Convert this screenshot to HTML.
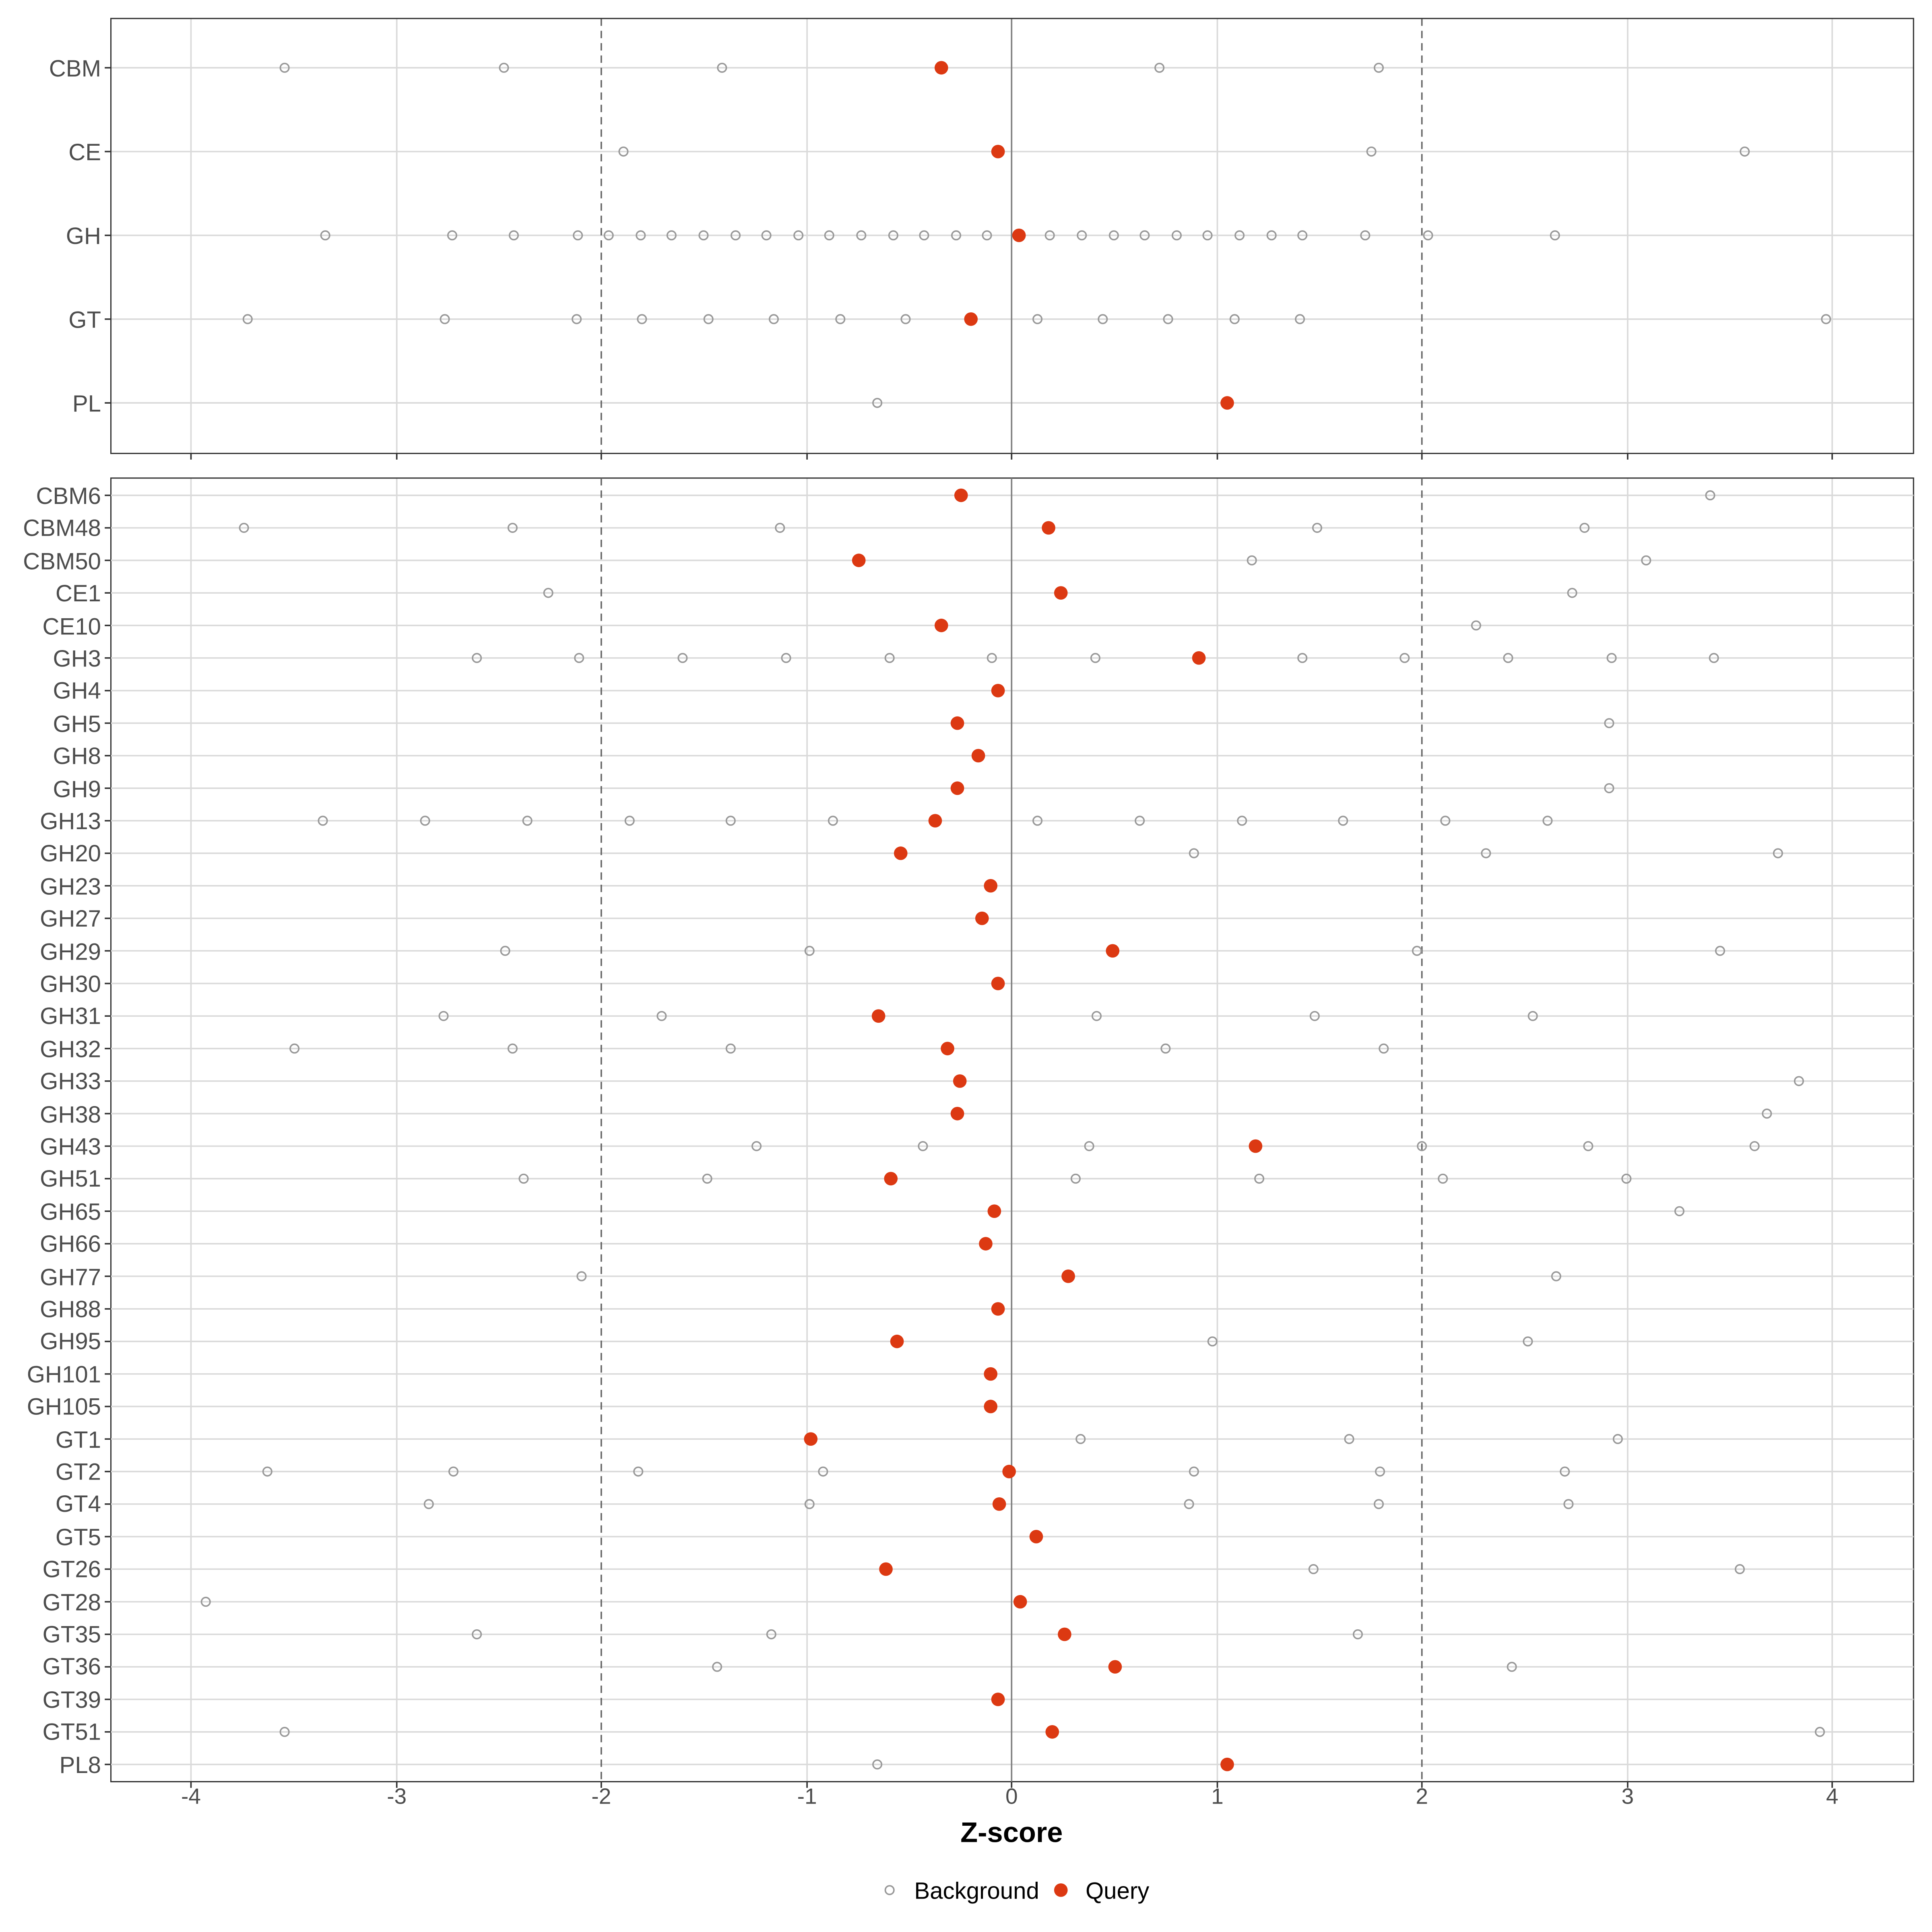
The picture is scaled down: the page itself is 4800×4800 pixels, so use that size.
<!DOCTYPE html>
<html><head><style>html,body{margin:0;padding:0;background:#fff}svg{display:block}</style></head><body>
<svg width="4800" height="4800" viewBox="0 0 1568 1568" xmlns="http://www.w3.org/2000/svg" font-family="Liberation Sans, sans-serif">
<rect width="1568" height="1568" fill="#fff"/>
<g stroke="#dadada" stroke-width="1.2">
<line x1="155" y1="15" x2="155" y2="368"/><line x1="322" y1="15" x2="322" y2="368"/><line x1="655" y1="15" x2="655" y2="368"/><line x1="988" y1="15" x2="988" y2="368"/><line x1="1321" y1="15" x2="1321" y2="368"/><line x1="1487" y1="15" x2="1487" y2="368"/>
<line x1="155" y1="388" x2="155" y2="1446"/><line x1="322" y1="388" x2="322" y2="1446"/><line x1="655" y1="388" x2="655" y2="1446"/><line x1="988" y1="388" x2="988" y2="1446"/><line x1="1321" y1="388" x2="1321" y2="1446"/><line x1="1487" y1="388" x2="1487" y2="1446"/>
<line x1="90" y1="55" x2="1553" y2="55"/><line x1="90" y1="123" x2="1553" y2="123"/><line x1="90" y1="191" x2="1553" y2="191"/><line x1="90" y1="259" x2="1553" y2="259"/><line x1="90" y1="327" x2="1553" y2="327"/>
</g>
<g stroke="#808080" stroke-width="1.2"><line x1="821" y1="15" x2="821" y2="368"/></g>
<g stroke="#666" stroke-width="1.2" stroke-dasharray="6,4"><line x1="488" y1="15" x2="488" y2="368"/><line x1="1154" y1="15" x2="1154" y2="368"/></g>
<g fill="none" stroke="#333" stroke-width="1"><rect x="90" y="15" width="1463" height="353"/><rect x="90" y="388" width="1463" height="1058"/></g>

<g font-size="19" fill="#4d4d4d" text-anchor="end">
<text x="82" y="62">CBM</text><text x="82" y="130">CE</text><text x="82" y="198">GH</text><text x="82" y="266">GT</text><text x="82" y="334">PL</text>
</g>
<g stroke="#333" stroke-width="1.2">
<line x1="85" y1="55" x2="90" y2="55"/><line x1="85" y1="123" x2="90" y2="123"/><line x1="85" y1="191" x2="90" y2="191"/><line x1="85" y1="259" x2="90" y2="259"/><line x1="85" y1="327" x2="90" y2="327"/>
<line x1="155" y1="368" x2="155" y2="373"/><line x1="322" y1="368" x2="322" y2="373"/><line x1="488" y1="368" x2="488" y2="373"/><line x1="655" y1="368" x2="655" y2="373"/><line x1="821" y1="368" x2="821" y2="373"/><line x1="988" y1="368" x2="988" y2="373"/><line x1="1154" y1="368" x2="1154" y2="373"/><line x1="1321" y1="368" x2="1321" y2="373"/><line x1="1487" y1="368" x2="1487" y2="373"/>
<line x1="155" y1="1446" x2="155" y2="1451"/><line x1="322" y1="1446" x2="322" y2="1451"/><line x1="488" y1="1446" x2="488" y2="1451"/><line x1="655" y1="1446" x2="655" y2="1451"/><line x1="821" y1="1446" x2="821" y2="1451"/><line x1="988" y1="1446" x2="988" y2="1451"/><line x1="1154" y1="1446" x2="1154" y2="1451"/><line x1="1321" y1="1446" x2="1321" y2="1451"/><line x1="1487" y1="1446" x2="1487" y2="1451"/>
</g>
<g font-size="18" fill="#4d4d4d" text-anchor="middle">
<text x="155" y="1464">-4</text><text x="322" y="1464">-3</text><text x="488" y="1464">-2</text><text x="655" y="1464">-1</text><text x="821" y="1464">0</text><text x="988" y="1464">1</text><text x="1154" y="1464">2</text><text x="1321" y="1464">3</text><text x="1487" y="1464">4</text>
</g>
<text x="821" y="1495" font-size="23" font-weight="bold" text-anchor="middle" fill="#000">Z-score</text>
<circle cx="722" cy="1534" r="3.5" fill="none" stroke="#999" stroke-width="1.2"/>
<text x="742" y="1541" font-size="19" fill="#000">Background</text>
<circle cx="861" cy="1534" r="5.5" fill="#dc3912"/>
<text x="881" y="1541" font-size="19" fill="#000">Query</text>

<g font-size="19" fill="#4d4d4d" text-anchor="end">
<text x="82" y="409">CBM6</text><text x="82" y="435">CBM48</text><text x="82" y="462">CBM50</text><text x="82" y="488">CE1</text><text x="82" y="515">CE10</text><text x="82" y="541">GH3</text><text x="82" y="567">GH4</text><text x="82" y="594">GH5</text><text x="82" y="620">GH8</text><text x="82" y="647">GH9</text><text x="82" y="673">GH13</text><text x="82" y="699">GH20</text><text x="82" y="726">GH23</text><text x="82" y="752">GH27</text><text x="82" y="779">GH29</text><text x="82" y="805">GH30</text><text x="82" y="831">GH31</text><text x="82" y="858">GH32</text><text x="82" y="884">GH33</text><text x="82" y="911">GH38</text><text x="82" y="937">GH43</text><text x="82" y="963">GH51</text><text x="82" y="990">GH65</text><text x="82" y="1016">GH66</text><text x="82" y="1043">GH77</text><text x="82" y="1069">GH88</text><text x="82" y="1095">GH95</text><text x="82" y="1122">GH101</text><text x="82" y="1148">GH105</text><text x="82" y="1175">GT1</text><text x="82" y="1201">GT2</text><text x="82" y="1227">GT4</text><text x="82" y="1254">GT5</text><text x="82" y="1280">GT26</text><text x="82" y="1307">GT28</text><text x="82" y="1333">GT35</text><text x="82" y="1359">GT36</text><text x="82" y="1386">GT39</text><text x="82" y="1412">GT51</text><text x="82" y="1439">PL8</text>
</g>
<g stroke="#dadada" stroke-width="1.2">
<line x1="90" x2="1553" y1="402" y2="402"/><line x1="90" x2="1553" y1="428.4" y2="428.4"/><line x1="90" x2="1553" y1="454.8" y2="454.8"/><line x1="90" x2="1553" y1="481.2" y2="481.2"/><line x1="90" x2="1553" y1="507.6" y2="507.6"/><line x1="90" x2="1553" y1="534" y2="534"/><line x1="90" x2="1553" y1="560.5" y2="560.5"/><line x1="90" x2="1553" y1="586.9" y2="586.9"/><line x1="90" x2="1553" y1="613.3" y2="613.3"/><line x1="90" x2="1553" y1="639.7" y2="639.7"/><line x1="90" x2="1553" y1="666.1" y2="666.1"/><line x1="90" x2="1553" y1="692.5" y2="692.5"/><line x1="90" x2="1553" y1="718.9" y2="718.9"/><line x1="90" x2="1553" y1="745.3" y2="745.3"/><line x1="90" x2="1553" y1="771.7" y2="771.7"/><line x1="90" x2="1553" y1="798.2" y2="798.2"/><line x1="90" x2="1553" y1="824.6" y2="824.6"/><line x1="90" x2="1553" y1="851" y2="851"/><line x1="90" x2="1553" y1="877.4" y2="877.4"/><line x1="90" x2="1553" y1="903.8" y2="903.8"/><line x1="90" x2="1553" y1="930.2" y2="930.2"/><line x1="90" x2="1553" y1="956.6" y2="956.6"/><line x1="90" x2="1553" y1="983" y2="983"/><line x1="90" x2="1553" y1="1009.4" y2="1009.4"/><line x1="90" x2="1553" y1="1035.8" y2="1035.8"/><line x1="90" x2="1553" y1="1062.3" y2="1062.3"/><line x1="90" x2="1553" y1="1088.7" y2="1088.7"/><line x1="90" x2="1553" y1="1115.1" y2="1115.1"/><line x1="90" x2="1553" y1="1141.5" y2="1141.5"/><line x1="90" x2="1553" y1="1167.9" y2="1167.9"/><line x1="90" x2="1553" y1="1194.3" y2="1194.3"/><line x1="90" x2="1553" y1="1220.7" y2="1220.7"/><line x1="90" x2="1553" y1="1247.1" y2="1247.1"/><line x1="90" x2="1553" y1="1273.5" y2="1273.5"/><line x1="90" x2="1553" y1="1300" y2="1300"/><line x1="90" x2="1553" y1="1326.4" y2="1326.4"/><line x1="90" x2="1553" y1="1352.8" y2="1352.8"/><line x1="90" x2="1553" y1="1379.2" y2="1379.2"/><line x1="90" x2="1553" y1="1405.6" y2="1405.6"/><line x1="90" x2="1553" y1="1432" y2="1432"/>
</g>
<g stroke="#333" stroke-width="1.2">
<line x1="85" x2="90" y1="402" y2="402"/><line x1="85" x2="90" y1="428.4" y2="428.4"/><line x1="85" x2="90" y1="454.8" y2="454.8"/><line x1="85" x2="90" y1="481.2" y2="481.2"/><line x1="85" x2="90" y1="507.6" y2="507.6"/><line x1="85" x2="90" y1="534" y2="534"/><line x1="85" x2="90" y1="560.5" y2="560.5"/><line x1="85" x2="90" y1="586.9" y2="586.9"/><line x1="85" x2="90" y1="613.3" y2="613.3"/><line x1="85" x2="90" y1="639.7" y2="639.7"/><line x1="85" x2="90" y1="666.1" y2="666.1"/><line x1="85" x2="90" y1="692.5" y2="692.5"/><line x1="85" x2="90" y1="718.9" y2="718.9"/><line x1="85" x2="90" y1="745.3" y2="745.3"/><line x1="85" x2="90" y1="771.7" y2="771.7"/><line x1="85" x2="90" y1="798.2" y2="798.2"/><line x1="85" x2="90" y1="824.6" y2="824.6"/><line x1="85" x2="90" y1="851" y2="851"/><line x1="85" x2="90" y1="877.4" y2="877.4"/><line x1="85" x2="90" y1="903.8" y2="903.8"/><line x1="85" x2="90" y1="930.2" y2="930.2"/><line x1="85" x2="90" y1="956.6" y2="956.6"/><line x1="85" x2="90" y1="983" y2="983"/><line x1="85" x2="90" y1="1009.4" y2="1009.4"/><line x1="85" x2="90" y1="1035.8" y2="1035.8"/><line x1="85" x2="90" y1="1062.3" y2="1062.3"/><line x1="85" x2="90" y1="1088.7" y2="1088.7"/><line x1="85" x2="90" y1="1115.1" y2="1115.1"/><line x1="85" x2="90" y1="1141.5" y2="1141.5"/><line x1="85" x2="90" y1="1167.9" y2="1167.9"/><line x1="85" x2="90" y1="1194.3" y2="1194.3"/><line x1="85" x2="90" y1="1220.7" y2="1220.7"/><line x1="85" x2="90" y1="1247.1" y2="1247.1"/><line x1="85" x2="90" y1="1273.5" y2="1273.5"/><line x1="85" x2="90" y1="1300" y2="1300"/><line x1="85" x2="90" y1="1326.4" y2="1326.4"/><line x1="85" x2="90" y1="1352.8" y2="1352.8"/><line x1="85" x2="90" y1="1379.2" y2="1379.2"/><line x1="85" x2="90" y1="1405.6" y2="1405.6"/><line x1="85" x2="90" y1="1432" y2="1432"/>
</g>
<g stroke="#808080" stroke-width="1.2"><line x1="821" y1="388" x2="821" y2="1446"/></g>
<g stroke="#666" stroke-width="1.2" stroke-dasharray="6,4"><line x1="488" y1="388" x2="488" y2="1446"/><line x1="1154" y1="388" x2="1154" y2="1446"/></g>

<g fill="none" stroke="#999" stroke-width="1.2">
<circle cx="231" cy="55" r="3.5"/><circle cx="409" cy="55" r="3.5"/><circle cx="586" cy="55" r="3.5"/><circle cx="941" cy="55" r="3.5"/><circle cx="1119" cy="55" r="3.5"/>
<circle cx="506" cy="123" r="3.5"/><circle cx="1113" cy="123" r="3.5"/><circle cx="1416" cy="123" r="3.5"/>
<circle cx="264" cy="191" r="3.5"/><circle cx="367" cy="191" r="3.5"/><circle cx="417" cy="191" r="3.5"/><circle cx="469" cy="191" r="3.5"/><circle cx="494" cy="191" r="3.5"/><circle cx="520" cy="191" r="3.5"/><circle cx="545" cy="191" r="3.5"/><circle cx="571" cy="191" r="3.5"/><circle cx="597" cy="191" r="3.5"/><circle cx="622" cy="191" r="3.5"/><circle cx="648" cy="191" r="3.5"/><circle cx="673" cy="191" r="3.5"/><circle cx="699" cy="191" r="3.5"/><circle cx="725" cy="191" r="3.5"/><circle cx="750" cy="191" r="3.5"/><circle cx="776" cy="191" r="3.5"/><circle cx="801" cy="191" r="3.5"/><circle cx="852" cy="191" r="3.5"/><circle cx="878" cy="191" r="3.5"/><circle cx="904" cy="191" r="3.5"/><circle cx="929" cy="191" r="3.5"/><circle cx="955" cy="191" r="3.5"/><circle cx="980" cy="191" r="3.5"/><circle cx="1006" cy="191" r="3.5"/><circle cx="1032" cy="191" r="3.5"/><circle cx="1057" cy="191" r="3.5"/><circle cx="1108" cy="191" r="3.5"/><circle cx="1159" cy="191" r="3.5"/><circle cx="1262" cy="191" r="3.5"/>
<circle cx="201" cy="259" r="3.5"/><circle cx="361" cy="259" r="3.5"/><circle cx="468" cy="259" r="3.5"/><circle cx="521" cy="259" r="3.5"/><circle cx="575" cy="259" r="3.5"/><circle cx="628" cy="259" r="3.5"/><circle cx="682" cy="259" r="3.5"/><circle cx="735" cy="259" r="3.5"/><circle cx="842" cy="259" r="3.5"/><circle cx="895" cy="259" r="3.5"/><circle cx="948" cy="259" r="3.5"/><circle cx="1002" cy="259" r="3.5"/><circle cx="1055" cy="259" r="3.5"/><circle cx="1482" cy="259" r="3.5"/>
<circle cx="712" cy="327" r="3.5"/>
<circle cx="1388" cy="402" r="3.5"/>
<circle cx="198" cy="428.4" r="3.5"/><circle cx="416" cy="428.4" r="3.5"/><circle cx="633" cy="428.4" r="3.5"/><circle cx="1069" cy="428.4" r="3.5"/><circle cx="1286" cy="428.4" r="3.5"/>
<circle cx="1016" cy="454.8" r="3.5"/><circle cx="1336" cy="454.8" r="3.5"/>
<circle cx="445" cy="481.2" r="3.5"/><circle cx="1276" cy="481.2" r="3.5"/>
<circle cx="1198" cy="507.6" r="3.5"/>
<circle cx="387" cy="534" r="3.5"/><circle cx="470" cy="534" r="3.5"/><circle cx="554" cy="534" r="3.5"/><circle cx="638" cy="534" r="3.5"/><circle cx="722" cy="534" r="3.5"/><circle cx="805" cy="534" r="3.5"/><circle cx="889" cy="534" r="3.5"/><circle cx="1057" cy="534" r="3.5"/><circle cx="1140" cy="534" r="3.5"/><circle cx="1224" cy="534" r="3.5"/><circle cx="1308" cy="534" r="3.5"/><circle cx="1391" cy="534" r="3.5"/>
<circle cx="1306" cy="586.9" r="3.5"/>
<circle cx="1306" cy="639.7" r="3.5"/>
<circle cx="262" cy="666.1" r="3.5"/><circle cx="345" cy="666.1" r="3.5"/><circle cx="428" cy="666.1" r="3.5"/><circle cx="511" cy="666.1" r="3.5"/><circle cx="593" cy="666.1" r="3.5"/><circle cx="676" cy="666.1" r="3.5"/><circle cx="842" cy="666.1" r="3.5"/><circle cx="925" cy="666.1" r="3.5"/><circle cx="1008" cy="666.1" r="3.5"/><circle cx="1090" cy="666.1" r="3.5"/><circle cx="1173" cy="666.1" r="3.5"/><circle cx="1256" cy="666.1" r="3.5"/>
<circle cx="969" cy="692.5" r="3.5"/><circle cx="1206" cy="692.5" r="3.5"/><circle cx="1443" cy="692.5" r="3.5"/>
<circle cx="410" cy="771.7" r="3.5"/><circle cx="657" cy="771.7" r="3.5"/><circle cx="1150" cy="771.7" r="3.5"/><circle cx="1396" cy="771.7" r="3.5"/>
<circle cx="360" cy="824.6" r="3.5"/><circle cx="537" cy="824.6" r="3.5"/><circle cx="890" cy="824.6" r="3.5"/><circle cx="1067" cy="824.6" r="3.5"/><circle cx="1244" cy="824.6" r="3.5"/>
<circle cx="239" cy="851" r="3.5"/><circle cx="416" cy="851" r="3.5"/><circle cx="593" cy="851" r="3.5"/><circle cx="946" cy="851" r="3.5"/><circle cx="1123" cy="851" r="3.5"/>
<circle cx="1460" cy="877.4" r="3.5"/>
<circle cx="1434" cy="903.8" r="3.5"/>
<circle cx="614" cy="930.2" r="3.5"/><circle cx="749" cy="930.2" r="3.5"/><circle cx="884" cy="930.2" r="3.5"/><circle cx="1154" cy="930.2" r="3.5"/><circle cx="1289" cy="930.2" r="3.5"/><circle cx="1424" cy="930.2" r="3.5"/>
<circle cx="425" cy="956.6" r="3.5"/><circle cx="574" cy="956.6" r="3.5"/><circle cx="873" cy="956.6" r="3.5"/><circle cx="1022" cy="956.6" r="3.5"/><circle cx="1171" cy="956.6" r="3.5"/><circle cx="1320" cy="956.6" r="3.5"/>
<circle cx="1363" cy="983" r="3.5"/>
<circle cx="472" cy="1035.8" r="3.5"/><circle cx="1263" cy="1035.8" r="3.5"/>
<circle cx="984" cy="1088.7" r="3.5"/><circle cx="1240" cy="1088.7" r="3.5"/>
<circle cx="877" cy="1167.9" r="3.5"/><circle cx="1095" cy="1167.9" r="3.5"/><circle cx="1313" cy="1167.9" r="3.5"/>
<circle cx="217" cy="1194.3" r="3.5"/><circle cx="368" cy="1194.3" r="3.5"/><circle cx="518" cy="1194.3" r="3.5"/><circle cx="668" cy="1194.3" r="3.5"/><circle cx="969" cy="1194.3" r="3.5"/><circle cx="1120" cy="1194.3" r="3.5"/><circle cx="1270" cy="1194.3" r="3.5"/>
<circle cx="348" cy="1220.7" r="3.5"/><circle cx="657" cy="1220.7" r="3.5"/><circle cx="965" cy="1220.7" r="3.5"/><circle cx="1119" cy="1220.7" r="3.5"/><circle cx="1273" cy="1220.7" r="3.5"/>
<circle cx="1066" cy="1273.5" r="3.5"/><circle cx="1412" cy="1273.5" r="3.5"/>
<circle cx="167" cy="1300" r="3.5"/>
<circle cx="387" cy="1326.4" r="3.5"/><circle cx="626" cy="1326.4" r="3.5"/><circle cx="1102" cy="1326.4" r="3.5"/>
<circle cx="582" cy="1352.8" r="3.5"/><circle cx="1227" cy="1352.8" r="3.5"/>
<circle cx="231" cy="1405.6" r="3.5"/><circle cx="1477" cy="1405.6" r="3.5"/>
<circle cx="712" cy="1432" r="3.5"/>
</g>

<g fill="#dc3912">
<circle cx="764" cy="55" r="5.5"/><circle cx="810" cy="123" r="5.5"/><circle cx="827" cy="191" r="5.5"/><circle cx="788" cy="259" r="5.5"/><circle cx="996" cy="327" r="5.5"/>
<circle cx="780" cy="402" r="5.5"/><circle cx="851" cy="428.4" r="5.5"/><circle cx="697" cy="454.8" r="5.5"/><circle cx="861" cy="481.2" r="5.5"/><circle cx="764" cy="507.6" r="5.5"/><circle cx="973" cy="534" r="5.5"/><circle cx="810" cy="560.5" r="5.5"/><circle cx="777" cy="586.9" r="5.5"/><circle cx="794" cy="613.3" r="5.5"/><circle cx="777" cy="639.7" r="5.5"/><circle cx="759" cy="666.1" r="5.5"/><circle cx="731" cy="692.5" r="5.5"/><circle cx="804" cy="718.9" r="5.5"/><circle cx="797" cy="745.3" r="5.5"/><circle cx="903" cy="771.7" r="5.5"/><circle cx="810" cy="798.2" r="5.5"/><circle cx="713" cy="824.6" r="5.5"/><circle cx="769" cy="851" r="5.5"/><circle cx="779" cy="877.4" r="5.5"/><circle cx="777" cy="903.8" r="5.5"/><circle cx="1019" cy="930.2" r="5.5"/><circle cx="723" cy="956.6" r="5.5"/><circle cx="807" cy="983" r="5.5"/><circle cx="800" cy="1009.4" r="5.5"/><circle cx="867" cy="1035.8" r="5.5"/><circle cx="810" cy="1062.3" r="5.5"/><circle cx="728" cy="1088.7" r="5.5"/><circle cx="804" cy="1115.1" r="5.5"/><circle cx="804" cy="1141.5" r="5.5"/><circle cx="658" cy="1167.9" r="5.5"/><circle cx="819" cy="1194.3" r="5.5"/><circle cx="811" cy="1220.7" r="5.5"/><circle cx="841" cy="1247.1" r="5.5"/><circle cx="719" cy="1273.5" r="5.5"/><circle cx="828" cy="1300" r="5.5"/><circle cx="864" cy="1326.4" r="5.5"/><circle cx="905" cy="1352.8" r="5.5"/><circle cx="810" cy="1379.2" r="5.5"/><circle cx="854" cy="1405.6" r="5.5"/><circle cx="996" cy="1432" r="5.5"/>
</g>
</svg>
</body></html>
